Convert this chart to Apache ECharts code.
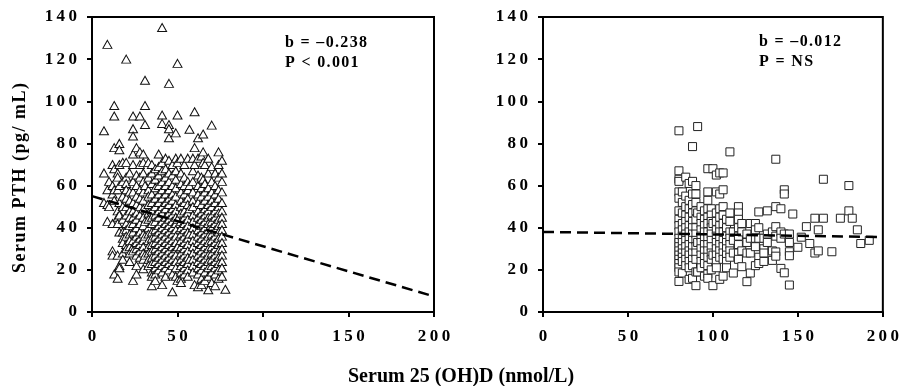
<!DOCTYPE html>
<html>
<head>
<meta charset="utf-8">
<script src="https://cdn.jsdelivr.net/npm/echarts@6/dist/echarts.min.js"></script>
<style>
  html, body { margin: 0; padding: 0; background: #fff; }
  #chart { width: 902px; height: 386px; }
</style>
</head>
<body>
<div id="chart"></div>
<script>
// left panel: 25(OH)D below 80, columns of [x, [PTH values]]
var leftCols = [
  [7, [86, 66, 52]],
  [9, [127, 58, 51, 43]],
  [10, [62, 50]],
  [12, [70, 60, 56, 42, 29, 27]],
  [13, [98, 93, 78, 68, 58, 53, 18]],
  [15, [66, 64, 58, 48, 45, 42, 27, 16]],
  [16, [80, 77, 70, 60, 52, 46, 38, 22, 21]],
  [18, [71, 62, 55, 50, 44, 38, 35, 33, 28, 25]],
  [20, [120, 71, 64, 61, 58, 54, 50, 46, 42, 39, 36, 32, 30]],
  [22, [66, 57, 53, 48, 45, 41, 37, 34, 31, 28, 24]],
  [24, [93, 87, 83.5, 75, 70, 62, 57, 52, 48, 45, 42, 38, 34, 31, 29, 15]],
  [26, [78, 65, 60, 55, 51, 47, 44, 40, 36, 33, 30, 27, 22, 18]],
  [28, [93, 76, 70, 64, 58, 54, 50, 46, 42, 38, 35, 32, 29, 26]],
  [30, [75, 71, 66, 62, 57, 53, 49, 45, 41, 37, 34, 31, 28, 25, 20.5]],
  [31, [110, 98, 89, 60, 43, 36, 27]],
  [33, [71, 64, 58, 55, 51, 47, 44, 40, 37, 34, 31, 28, 25, 22]],
  [35, [70, 66, 61, 56, 52, 48, 45, 42, 38, 35, 32, 29, 26, 23, 19, 17, 12.5]],
  [37, [68, 63, 59, 54, 50, 46, 43, 39, 36, 33, 30, 27, 24, 21, 18, 15]],
  [39, [75, 69, 65, 60, 56, 52, 48, 45, 41, 38, 35, 32, 29, 26, 23, 20]],
  [41, [135, 93.5, 89.5, 71, 67, 62, 58, 54, 50, 47, 43, 40, 37, 34, 31, 28, 25, 22, 19, 13]],
  [43, [73, 68, 64, 60, 56, 52, 49, 45, 42, 39, 36, 33, 30, 27, 24, 21, 17]],
  [45, [108.5, 89, 87, 82.7, 72, 66, 62, 58, 54, 51, 47, 44, 41, 38, 35, 32, 29, 26, 23, 20]],
  [47, [70, 65, 60, 56, 53, 49, 46, 43, 40, 37, 34, 31, 28, 25, 22, 18, 9.6]],
  [49, [85, 73, 67, 63, 59, 55, 51, 48, 45, 42, 39, 36, 33, 30, 27, 24, 21, 17]],
  [50, [118, 93.5, 71, 44, 31, 15]],
  [52, [73, 66, 61, 57, 53, 50, 47, 43, 40, 37, 34, 31, 28, 25, 22, 19, 16, 14]],
  [54, [70, 64, 60, 56, 52, 48, 45, 42, 39, 36, 33, 30, 27, 24, 21, 18]],
  [56, [73, 62, 58, 54, 51, 47, 44, 41, 38, 35, 32, 29, 26, 23, 20, 17]],
  [57, [86.7, 60, 49, 37, 25]],
  [59, [73, 67, 62, 57, 53, 50, 46, 43, 40, 37, 34, 31, 28, 25, 22, 19]],
  [60, [95, 78, 70, 13]],
  [62, [82.7, 73, 65, 60, 56, 52, 48, 45, 42, 39, 36, 33, 30, 27, 24, 21, 18, 12]],
  [64, [74, 64, 59, 55, 51, 47, 44, 41, 38, 35, 32, 29, 26, 23, 20, 16, 13]],
  [65, [84.5, 76, 71, 63]],
  [66, [70, 61, 57, 53, 49, 46, 43, 40, 37, 34, 31, 28, 25, 22, 19, 15]],
  [68, [73, 66, 59, 55, 51, 48, 45, 42, 39, 36, 33, 30, 27, 24, 21, 17, 10.6]],
  [70, [88.7, 69, 62, 57, 53, 50, 46, 43, 40, 37, 34, 31, 28, 25, 22, 19, 14]],
  [72, [66, 60, 56, 52, 48, 45, 42, 39, 36, 33, 30, 27, 24, 21, 18, 12.5]],
  [74, [76, 70, 64, 58, 54, 50, 47, 44, 41, 38, 35, 32, 29, 26, 23, 20, 16]],
  [76, [72, 66, 62, 57, 52, 48, 45, 42, 39, 36, 33, 30, 27, 24, 21, 17]],
  [78, [10.8]]
];

// right panel: 25(OH)D 80 and above
var rightCols = [
  [80, [86, 67, 63, 62, 57, 54, 48, 44, 41, 38, 35, 33, 31, 29, 27, 25, 23, 21, 19, 14.5]],
  [82, [57, 52, 47, 42, 39, 36, 33, 30, 28, 26, 24, 18.5]],
  [84, [64, 55, 50, 46, 43, 40, 37, 34, 31, 28, 25, 22]],
  [86, [61, 53, 49, 45, 41, 38, 35, 32, 29, 27, 24, 21, 15.5]],
  [88, [78.5, 62, 56, 51, 47, 43, 40, 37, 34, 31, 28, 25, 22, 16]],
  [90, [60, 56, 52, 48, 44, 40, 37, 34, 31, 28, 25, 19, 12.5]],
  [91, [88, 47, 33, 19]],
  [93, [50, 45, 42, 39, 36, 33, 30, 27, 24, 21]],
  [95, [48, 44, 41, 38, 35, 32, 29, 26, 23, 17]],
  [97, [68, 57, 53, 49, 45, 42, 38, 35, 32, 29, 26, 22, 18, 16]],
  [99, [49, 46, 43, 40, 37, 34, 31, 28, 25, 20]],
  [100, [68, 42, 27, 12.5]],
  [102, [65, 57, 47, 43, 39, 36, 33, 30, 27, 24, 21]],
  [104, [66, 56, 49, 45, 41, 38, 35, 32, 29, 26, 15.5]],
  [106, [66, 58, 50, 46, 42, 38, 34, 31, 28, 25, 17]],
  [108, [44, 40, 36, 33, 30, 27, 24, 21]],
  [110, [76, 47, 43, 38, 35, 32, 29, 26]],
  [112, [38, 34, 28, 18.5]],
  [115, [50, 47, 44, 40, 36, 32, 28, 25]],
  [117, [42, 38, 29, 21.5]],
  [120, [37, 33, 28, 14.4]],
  [122, [42, 35, 28, 18.5]],
  [125, [42, 39, 35, 31, 22]],
  [127, [47.5, 40, 35, 26, 23]],
  [130, [35, 30, 28, 24]],
  [132, [48, 37, 33]],
  [135, [38, 29, 24.5]],
  [137, [72.5, 50, 40.5, 36, 28.5, 26.5]],
  [140, [49, 38, 35, 20.7]],
  [142, [58, 56, 37, 18.6]],
  [145, [37, 33, 28.6, 26.7, 12.8]],
  [147, [46.5]],
  [150, [30.7]],
  [152, [35.5]],
  [155, [40.5]],
  [157, [32.5]],
  [160, [44.5, 28]],
  [162, [39, 29]],
  [165, [63, 44.5]],
  [170, [28.6]],
  [175, [44.5]],
  [180, [60, 48]],
  [182, [44.5]],
  [185, [39]],
  [187, [32.5]],
  [192, [34]]
];

// regression lines (endpoints at x = 0 and 200)
var leftFit = [[0, 55], [200, 7.4]];
var rightFit = [[0, 38], [200, 35.6]];

var xTicks = [0, 50, 100, 150, 200];
var yTicks = [0, 20, 40, 60, 80, 100, 120, 140];

function flatten(cols) {
  var out = [];
  cols.forEach(function (c) {
    c[1].forEach(function (y) { out.push([c[0], y]); });
  });
  return out;
}

// the original figure uses loosely tracked type
function spaced(s, gap) {
  return String(s).split('').join(gap);
}

var font = 'Liberation Serif';
var lbl = {
  fontFamily: font, fontWeight: 'bold', fontSize: 17, color: '#000',
  formatter: function (v) { return spaced(v, '\u2009'); }
};

function xAxis(idx) {
  return {
    gridIndex: idx, type: 'value',
    min: xTicks[0], max: xTicks[xTicks.length - 1], interval: 50,
    axisLine: { lineStyle: { color: '#000', width: 2 } },
    axisTick: { inside: false, length: 5, lineStyle: { color: '#000', width: 2 } },
    axisLabel: Object.assign({ margin: 16 }, lbl),
    splitLine: { show: false }
  };
}
function yAxis(idx) {
  return {
    gridIndex: idx, type: 'value',
    min: yTicks[0], max: yTicks[yTicks.length - 1], interval: 20,
    axisLine: { show: true, lineStyle: { color: '#000', width: 2 } },
    axisTick: { show: true, inside: false, length: 5, lineStyle: { color: '#000', width: 2 } },
    axisLabel: Object.assign({ margin: 15 }, lbl),
    splitLine: { show: false }
  };
}

var noteFont = 'bold 16px "Liberation Serif"';

var myChart = echarts.init(document.getElementById('chart'));

var option = {
  animation: false,
  backgroundColor: '#fff',
  grid: [
    { left: 92, right: 468, top: 17, bottom: 74, show: true, borderColor: '#000', borderWidth: 2 },
    { left: 543, right: 17, top: 17, bottom: 74, show: true, borderColor: '#000', borderWidth: 2 }
  ],
  xAxis: [xAxis(0), xAxis(1)],
  yAxis: [yAxis(0), yAxis(1)],
  graphic: [
    {
      type: 'text', x: 20, y: 178, rotation: Math.PI / 2,
      style: { text: spaced('Serum PTH (pg/ mL)', '\u200A'), font: 'bold 18px "Liberation Serif"', fill: '#000', align: 'center', verticalAlign: 'middle' }
    },
    { type: 'text', left: 348, top: 367, style: { text: 'Serum 25 (OH)D (nmol/L)', font: 'bold 20px "Liberation Serif"', fill: '#000' } },
    { type: 'text', left: 285, top: 35, style: { text: spaced('b = \u20130.238', '\u200A'), font: noteFont, fill: '#000' } },
    { type: 'text', left: 285, top: 55, style: { text: spaced('P < 0.001', '\u200A'), font: noteFont, fill: '#000' } },
    { type: 'text', left: 759, top: 34, style: { text: spaced('b = \u20130.012', '\u200A'), font: noteFont, fill: '#000' } },
    { type: 'text', left: 759, top: 54, style: { text: spaced('P = NS', '\u200A'), font: noteFont, fill: '#000' } }
  ],
  series: [
    {
      type: 'scatter', xAxisIndex: 0, yAxisIndex: 0,
      symbol: 'triangle', symbolSize: [9, 8],
      itemStyle: { color: '#fff', borderColor: '#111', borderWidth: 1, opacity: 1 },
      data: flatten(leftCols)
    },
    {
      type: 'line', xAxisIndex: 0, yAxisIndex: 0, showSymbol: false,
      lineStyle: { color: '#000', width: 2.5, type: [11, 6] },
      data: leftFit
    },
    {
      type: 'scatter', xAxisIndex: 1, yAxisIndex: 1,
      symbol: 'rect', symbolSize: 8,
      itemStyle: { color: '#fff', borderColor: '#222', borderWidth: 1, opacity: 1 },
      data: flatten(rightCols)
    },
    {
      type: 'line', xAxisIndex: 1, yAxisIndex: 1, showSymbol: false,
      lineStyle: { color: '#000', width: 2.5, type: [11, 6] },
      data: rightFit
    }
  ]
};

myChart.setOption(option);
</script>
</body>
</html>
